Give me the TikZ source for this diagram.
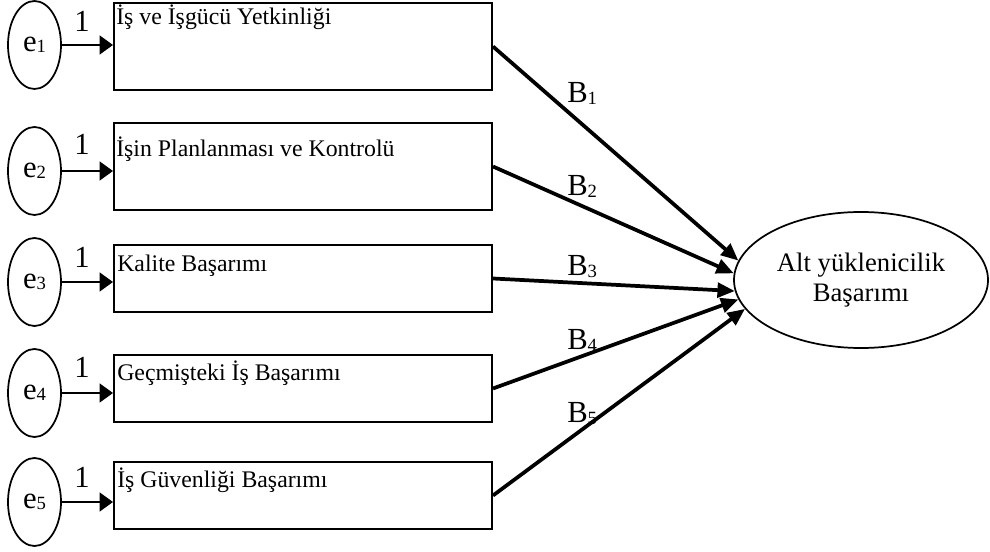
\documentclass[tikz,border=0pt]{standalone}
\usepackage{fontspec}
\setmainfont{Liberation Serif}
\usetikzlibrary{shapes.geometric,arrows.meta}
\newcommand{\subd}[1]{\raisebox{-1pt}{\fontsize{14pt}{14pt}\selectfont #1}}
\begin{document}
\begin{tikzpicture}[x=0.75pt,y=-0.75pt,
  errell/.style={draw, ellipse, line width=1.3pt, minimum width=39.75pt, minimum height=66pt, inner sep=0pt, font=\fontsize{23pt}{23pt}\selectfont},
  itembox/.style={draw, rectangle, line width=1.5pt, minimum width=283.5pt, inner sep=0pt},
  tallbox/.style={itembox, minimum height=65.25pt},
  shortbox/.style={itembox, minimum height=50.25pt},
  boxtext/.style={anchor=base west, inner sep=0pt, font=\fontsize{17.85pt}{20pt}\selectfont},
  onelabel/.style={anchor=base, inner sep=0pt, font=\fontsize{23pt}{23pt}\selectfont},
  blabel/.style={anchor=base west, inner sep=0pt, font=\fontsize{23pt}{23pt}\selectfont},
  smallarrow/.style={-{Triangle[length=10pt,width=14pt]}, line width=1.8pt},
  bigarrow/.style={-{Triangle[length=13pt,width=11pt]}, line width=2.8pt},
  outcome/.style={draw, ellipse, line width=1.3pt, minimum width=190.5pt, minimum height=102pt, inner sep=0pt, align=center, font=\fontsize{20pt}{22.5pt}\selectfont}
]
\useasboundingbox (0,0) rectangle (990,552);

% error terms
\node[errell] (e1) at (34.5,45)  {e\subd{1}};
\node[errell] (e2) at (34.5,171) {e\subd{2}};
\node[errell] (e3) at (34.5,282) {e\subd{3}};
\node[errell] (e4) at (34.5,393) {e\subd{4}};
\node[errell] (e5) at (34.5,502) {e\subd{5}};

% boxes
\node[tallbox]  (b1) at (303,46.5)  {};
\node[tallbox]  (b2) at (303,166.5) {};
\node[shortbox] (b3) at (303,278.5) {};
\node[shortbox] (b4) at (303,388.5) {};
\node[shortbox] (b5) at (303,495.5) {};

% box texts
\node[boxtext] (t1) at (116,25)  {İş ve İşgücü Yetkinliği};
\node[boxtext] (t2) at (116,157) {İşin Planlanması ve Kontrolü};
\node[boxtext] (t3) at (117,272) {Kalite Başarımı};
\node[boxtext] (t4) at (117,381) {Geçmişteki İş Başarımı};
\node[boxtext] (t5) at (117,488) {İş Güvenliği Başarımı};

% outcome
\node[outcome] (ae) at (861,280) {Alt yüklenicilik\\Başarımı};

% small arrows
\draw[smallarrow] (e1.east) -- (b1.west |- e1.east);
\draw[smallarrow] (e2.east) -- (b2.west |- e2.east);
\draw[smallarrow] (e3.east) -- (b3.west |- e3.east);
\draw[smallarrow] (e4.east) -- (b4.west |- e4.east);
\draw[smallarrow] (e5.east) -- (b5.west |- e5.east);

% ones
\node[onelabel] (l1) at (82,32)  {1};
\node[onelabel] (l2) at (82,155) {1};
\node[onelabel] (l3) at (82,268) {1};
\node[onelabel] (l4) at (82,378) {1};
\node[onelabel] (l5) at (82,488) {1};

% big arrows
\draw[bigarrow] (b1.east) -- (ae.171);
\draw[bigarrow] (b2.east) -- (ae.177);
\draw[bigarrow] (b3.east) -- (ae.185);
\draw[bigarrow] (b4.east) -- (ae.189);
\draw[bigarrow] (b5.east) -- (ae.194);

% B labels
\node[blabel] (B1) at (567,103) {B\subd{1}};
\node[blabel] (B2) at (567,196) {B\subd{2}};
\node[blabel] (B3) at (567,276) {B\subd{3}};
\node[blabel] (B4) at (567,350) {B\subd{4}};
\node[blabel] (B5) at (567,423) {B\subd{5}};
\end{tikzpicture}
\end{document}
